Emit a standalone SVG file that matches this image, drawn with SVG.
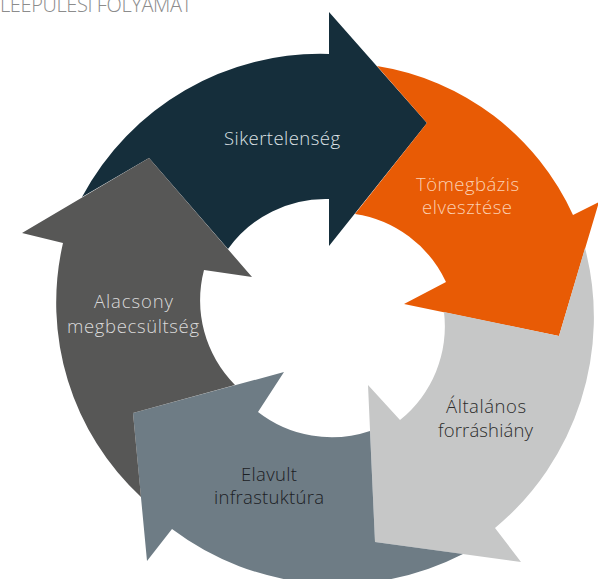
<svg xmlns="http://www.w3.org/2000/svg" width="598" height="579" viewBox="0 0 598 579">
<style>
text{font-family:"Open Sans","Liberation Sans",sans-serif;font-weight:300;font-size:18.5px;text-anchor:middle}
.title{font-size:20px;text-anchor:start;fill:#8c8c8c}
.lt{fill:#dde2e5}
.or{fill:#fbd0b2}
.dk{fill:#2b2b2b}
.bd{fill:#1c2024}
.gy{fill:#dadada}
</style>
<rect width="598" height="579" fill="#ffffff"/>
<text class="title" x="0" y="12" textLength="192">LEEPULESI FOLYAMAT</text>
<g id="connectors"></g>
<g id="node-sikertelenseg">
<path fill="#152e3b" d="M82,197 A270,270 0 0 1 329,54 L329,12 L427,123 L329,246 L329,199 A120,120 0 0 0 228,249 L149,158 Z"/>
<text class="lt" x="282" y="145" textLength="116">Sikertelenség</text>
</g>
<g id="node-tomegbazis">
<path fill="#e85b05" d="M377,66 A260,260 0 0 1 573,215 L599,202 L559,336 L404,304 L446,282 A120,120 0 0 0 355,214 L427,123 Z"/>
<text class="or" x="467.5" y="191" textLength="103">Tömegbázis</text>
<text class="or" x="467" y="214" textLength="90">elvesztése</text>
</g>
<g id="node-altalanos">
<path fill="#c6c7c7" d="M585,248 A274,274 0 0 1 495,528 L521,562 L375,542 L368,385 L400,420 A120,120 0 0 0 444,312 L559,336 Z"/>
<text class="dk" x="486" y="413" textLength="80">Általános</text>
<text class="dk" x="485.5" y="437" textLength="95">forráshiány</text>
</g>
<g id="node-elavult">
<path fill="#6e7c85" d="M463,554 A275,275 0 0 1 172,529 L147,561 L133,413 L284,372 L258,412 A120,120 0 0 0 370,431 L375,542 Z"/>
<text class="bd" x="269" y="481" textLength="56">Elavult</text>
<text class="bd" x="269" y="504" textLength="110">infrastuktúra</text>
</g>
<g id="node-alacsony">
<path fill="#575756" d="M141,497 A265,265 0 0 1 63,243 L22,233 L149,158 L252,277 L204,270 A120,120 0 0 0 235,385 L133,413 Z"/>
<text class="gy" x="133.5" y="308" textLength="79">Alacsony</text>
<text class="gy" x="133" y="333" textLength="132">megbecsültség</text>
</g>
</svg>
